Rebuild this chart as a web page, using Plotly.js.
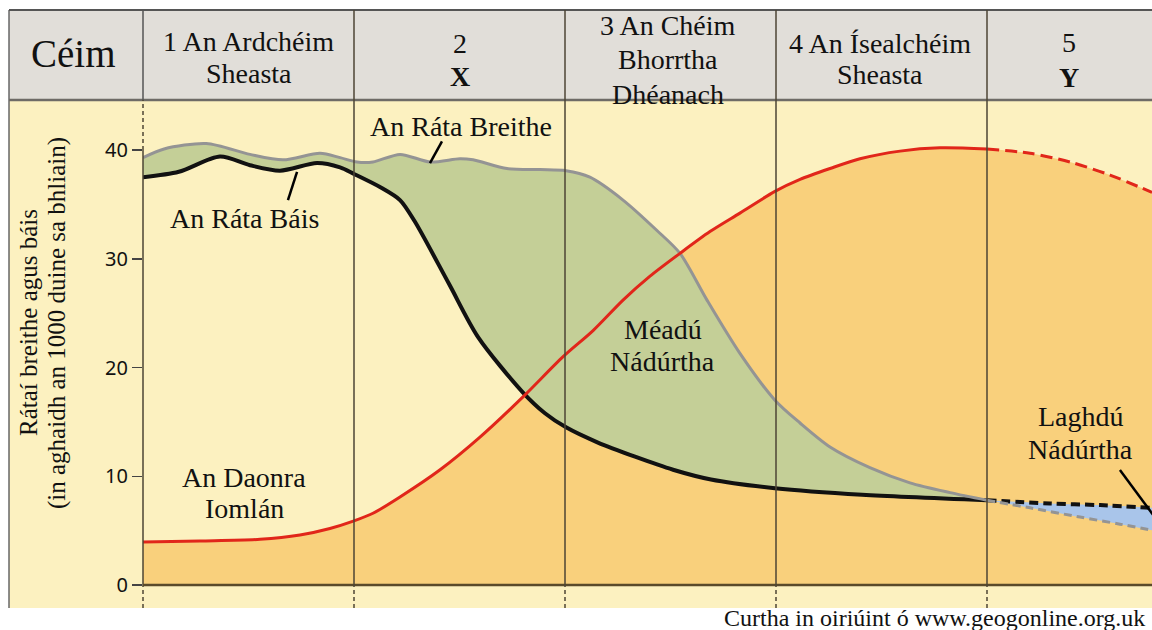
<!DOCTYPE html>
<html>
<head>
<meta charset="utf-8">
<script src="https://cdn.plot.ly/plotly-3.0.1.min.js"></script>
<style>html,body{margin:0;padding:0;background:#fff;}#chart{width:1152px;height:630px;}</style>
</head>
<body>
<div id="chart"></div>
<script>
// ---- data (x in stage units: 0 = start of stage 1, 1 = start of stage 2, ...) ----
const stageBounds = [1, 2, 3, 4];
const stageLabels = [
  ["1 An Ardchéim", "Sheasta"],
  ["2", "<b>X</b>"],
  ["3 An Chéim", "Bhorrtha", "Dhéanach"],
  ["4 An Íseal­chéim", "Sheasta"],
  ["5", "<b>Y</b>"]
];
const projectedFrom = 4; // stage 5 is a projection (dashed)

const birthX = [0, 0.10, 0.30, 0.507, 0.664, 0.839, 0.934, 1.014, 1.090, 1.218, 1.360, 1.502, 1.564, 1.725, 1.882, 2.005, 2.118, 2.275, 2.436, 2.545, 2.673, 2.829, 2.995, 3.114, 3.256, 3.445, 3.635, 3.825, 4.0, 4.204, 4.441, 4.630, 4.782];
const birthRate = [39.3, 40.1, 40.6, 39.6, 39.1, 39.7, 39.3, 38.9, 38.9, 39.6, 38.9, 39.2, 39.1, 38.3, 38.2, 38.1, 37.5, 35.4, 32.6, 30.5, 26.2, 21.3, 17.0, 14.9, 12.7, 10.8, 9.4, 8.5, 7.8, 7.1, 6.25, 5.6, 5.05];

const deathX = [0, 0.17, 0.365, 0.507, 0.649, 0.825, 0.934, 1.0, 1.123, 1.218, 1.289, 1.450, 1.588, 1.801, 1.905, 2.005, 2.156, 2.332, 2.512, 2.692, 2.995, 3.408, 4.0, 4.299, 4.536, 4.782];
const deathRate = [37.5, 38.0, 39.4, 38.6, 38.1, 38.8, 38.4, 37.8, 36.6, 35.4, 33.4, 27.7, 22.8, 17.7, 15.8, 14.5, 13.1, 11.8, 10.6, 9.7, 8.9, 8.3, 7.8, 7.5, 7.35, 7.1];

const popX = [0, 0.27, 0.555, 0.744, 0.886, 1.0, 1.09, 1.218, 1.408, 1.597, 1.801, 1.991, 2.133, 2.275, 2.403, 2.545, 2.687, 2.829, 2.995, 3.114, 3.256, 3.398, 3.588, 3.777, 4.0, 4.204, 4.393, 4.583, 4.782];
const population = [3.95, 4.05, 4.2, 4.6, 5.2, 5.9, 6.6, 8.1, 10.6, 13.6, 17.3, 21.0, 23.4, 26.2, 28.4, 30.5, 32.5, 34.2, 36.2, 37.3, 38.3, 39.2, 39.9, 40.2, 40.1, 39.7, 38.9, 37.7, 36.1];

const yTicks = [0, 10, 20, 30, 40];

// ---- helpers ----
function part(xs, ys, solid) {
  const ox = [], oy = [];
  xs.forEach((x, i) => {
    if (solid ? x <= projectedFrom : x >= projectedFrom) { ox.push(x); oy.push(ys[i]); }
  });
  return {x: ox, y: oy};
}

const C = {
  yellow: '#fcf1c0', orange: '#f9d07c', green: '#c4cf97', blue: '#a9c5ea',
  header: '#e1ded9', grid: '#4d4535', red: '#e1261a', black: '#111111', gray: '#949494'
};
const SERIF = 'Liberation Serif, Times New Roman, serif';
const xRange = [0, 4.782];
const yRange = [-2.11, 44.6];
const zeroPaper = (0 - yRange[0]) / (yRange[1] - yRange[0]);
const topPaper = 1.1772;
const leftPaper = -0.1328;
const sp = {shape: 'spline', smoothing: 0.8};

const dS = part(deathX, deathRate, true), dD = part(deathX, deathRate, false);
const bS = part(birthX, birthRate, true), bD = part(birthX, birthRate, false);
const pS = part(popX, population, true), pD = part(popX, population, false);

const traces = [
  {x: popX, y: population, mode: 'lines', fill: 'tozeroy', fillcolor: C.orange,
   line: Object.assign({width: 0, color: C.orange}, sp), hoverinfo: 'skip', name: 'An Daonra Iomlán (fill)'},
  {x: dS.x, y: dS.y, mode: 'lines', line: Object.assign({width: 4, color: C.black}, sp), name: 'An Ráta Báis'},
  {x: bS.x, y: bS.y, mode: 'lines', fill: 'tonexty', fillcolor: C.green,
   line: Object.assign({width: 3, color: C.gray}, sp), name: 'An Ráta Breithe'},
  {x: dD.x, y: dD.y, mode: 'lines', line: Object.assign({width: 4, color: C.black, dash: '9px,5px'}, sp), name: 'An Ráta Báis (Y)'},
  {x: bD.x, y: bD.y, mode: 'lines', fill: 'tonexty', fillcolor: C.blue,
   line: Object.assign({width: 3, color: C.gray, dash: '8px,5px'}, sp), name: 'An Ráta Breithe (Y)'},
  {x: pS.x, y: pS.y, mode: 'lines', line: Object.assign({width: 3, color: C.red}, sp), name: 'An Daonra Iomlán'},
  {x: pD.x, y: pD.y, mode: 'lines', line: Object.assign({width: 3, color: C.red, dash: '12px,6px'}, sp), name: 'An Daonra Iomlán (Y)'}
];

const shapes = [
  // header band
  {type: 'rect', xref: 'paper', yref: 'paper', x0: leftPaper, x1: 1.01, y0: 1, y1: topPaper,
   fillcolor: C.header, line: {width: 0}, layer: 'below'},
  // left yellow panel
  {type: 'rect', xref: 'paper', yref: 'paper', x0: leftPaper, x1: 0, y0: 0, y1: 1,
   fillcolor: C.yellow, line: {width: 0}, layer: 'below'},
  // outer border
  {type: 'line', xref: 'paper', yref: 'paper', x0: leftPaper, x1: leftPaper, y0: 0, y1: topPaper, line: {color: '#666', width: 1.5}},
  {type: 'line', xref: 'paper', yref: 'paper', x0: leftPaper, x1: 1.01, y0: topPaper, y1: topPaper, line: {color: '#555', width: 2}},
  // header bottom line
  {type: 'line', xref: 'paper', yref: 'paper', x0: leftPaper, x1: 1.01, y0: 1, y1: 1, line: {color: '#6e6b66', width: 2.5}},
  // y axis line: header part, dashed top, solid, dashed bottom
  {type: 'line', xref: 'paper', yref: 'paper', x0: 0, x1: 0, y0: 1, y1: topPaper, line: {color: '#555', width: 1.5}},
  {type: 'line', xref: 'paper', yref: 'y', x0: 0, x1: 0, y0: 40, y1: yRange[1], line: {color: C.grid, width: 1.5, dash: '4px,3px'}},
  {type: 'line', xref: 'paper', yref: 'y', x0: 0, x1: 0, y0: 0, y1: 40, line: {color: C.grid, width: 1.5}},
  {type: 'line', xref: 'paper', yref: 'y', x0: 0, x1: 0, y0: yRange[0], y1: 0, line: {color: C.grid, width: 1.5, dash: '4px,3px'}},
  // x baseline
  {type: 'line', xref: 'paper', yref: 'y', x0: 0, x1: 1, y0: 0, y1: 0, line: {color: '#5a4a2a', width: 2.5}}
];
stageBounds.forEach(b => {
  shapes.push({type: 'line', xref: 'x', yref: 'paper', x0: b, x1: b, y0: zeroPaper, y1: topPaper,
               line: {color: C.grid, width: 1.5}, layer: 'above'});
  shapes.push({type: 'line', xref: 'x', yref: 'y', x0: b, x1: b, y0: yRange[0], y1: 0,
               line: {color: C.grid, width: 1.5, dash: '4px,3px'}});
});
// pointer lines
[[1.417, 40.8, 1.360, 38.8], [0.730, 38.0, 0.687, 35.4], [4.630, 10.57, 4.90, 3.5]].forEach(p => {
  shapes.push({type: 'line', xref: 'x', yref: 'y', x0: p[0], y0: p[1], x1: p[2], y1: p[3],
               line: {color: '#000', width: 2.5}, layer: 'above'});
});

const ann = [];
function txt(text, x, y, size, xref, yref, extra) {
  ann.push(Object.assign({text: text, x: x, y: y, xref: xref, yref: yref, showarrow: false,
    xanchor: 'center', yanchor: 'middle', font: {family: SERIF, size: size, color: '#111'}}, extra || {}));
}
// header
const hp = py => (608 - py) / 508;
txt('Céim', (73 - 143) / 1009, hp(54), 39, 'paper', 'paper');
const headerCentres = [0.502, 1.502, 2.488, 3.493, 4.389];
const headerRows = [[42, 73], [44, 76], [25, 60, 94], [44, 74], [43, 77]];
stageLabels.forEach((lines, i) => {
  lines.forEach((l, j) => txt(l, headerCentres[i], hp(headerRows[i][j]), 28, 'x', 'paper'));
});
// labels in the plot
txt('An Ráta Breithe', 1.507, 42.2, 28, 'x', 'y');
txt('An Ráta Báis', 0.483, 33.66, 28, 'x', 'y');
txt('Méadú', 2.464, 23.54, 28, 'x', 'y');
txt('Nádúrtha', 2.460, 20.51, 28, 'x', 'y');
txt('An Daonra', 0.479, 9.93, 28, 'x', 'y');
txt('Iomlán', 0.479, 7.08, 28, 'x', 'y');
txt('Laghdú', 4.445, 15.54, 28, 'x', 'y');
txt('Nádúrtha', 4.441, 12.51, 28, 'x', 'y');
// y axis title (two lines)
txt('Rátaí breithe agus báis', (28 - 143) / 1009, 0.561, 25, 'paper', 'paper', {textangle: -90});
txt('(in aghaidh an 1000 duine sa bhliain)', (57 - 143) / 1009, 0.561, 25, 'paper', 'paper', {textangle: -90});
// source
txt('Curtha in oiriúint ó www.geogonline.org.uk', 0.995, -0.0197, 24, 'paper', 'paper', {xanchor: 'right'});

const layout = {
  width: 1152, height: 630,
  margin: {l: 143, r: 0, t: 100, b: 22, pad: 0},
  paper_bgcolor: '#ffffff', plot_bgcolor: C.yellow,
  showlegend: false,
  xaxis: {range: xRange, showgrid: false, zeroline: false, showline: false, showticklabels: false, ticks: '', fixedrange: true},
  yaxis: {range: yRange, tickvals: yTicks, ticktext: yTicks.map(String), ticks: 'outside', ticklen: 10, tickwidth: 1.5,
          tickcolor: '#444', showgrid: false, zeroline: false, showline: false,
          tickfont: {family: 'Noto Sans, Open Sans, sans-serif', size: 20, color: '#111'}, fixedrange: true},
  shapes: shapes,
  annotations: ann
};

Plotly.newPlot('chart', traces, layout, {displayModeBar: false, staticPlot: true});
</script>
</body>
</html>
